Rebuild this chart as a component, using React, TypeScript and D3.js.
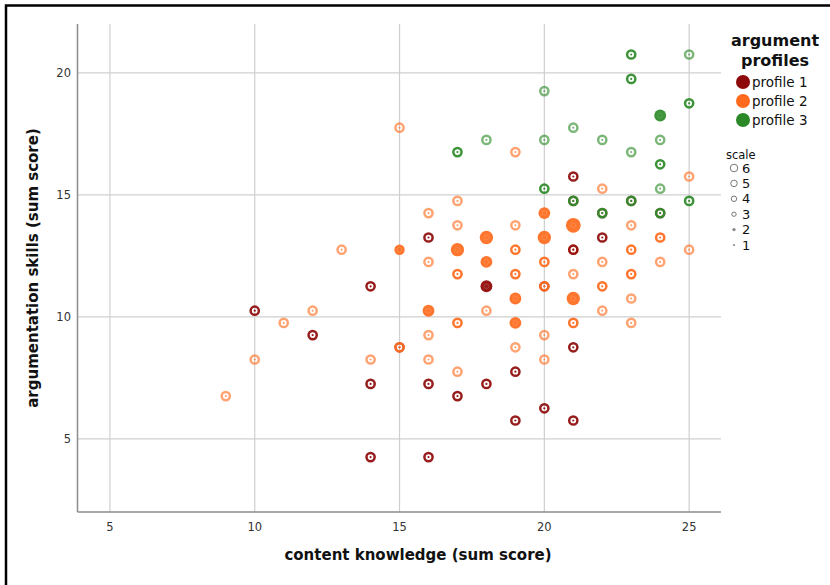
import React from "react";
import * as d3 from "d3";

// x = content knowledge, y = argumentation skills, n = scale (overlap count)
const profile1X = [10, 12, 14, 14, 14, 16, 16, 16, 17, 18, 18, 19, 19, 20, 20, 21, 21, 21, 21, 22, 15, 21, 22, 23, 24];
const profile1Y = [10.25, 9.25, 11.25, 7.25, 4.25, 13.25, 7.25, 4.25, 6.75, 11.25, 7.25, 7.75, 5.75, 11.25, 6.25, 15.75, 12.75, 8.75, 5.75, 13.25, 8.75, 14.75, 14.25, 14.75, 14.25];
const profile1N = [2, 2, 2, 2, 2, 2, 2, 2, 2, 4, 2, 2, 2, 1, 2, 2, 2, 2, 2, 2, 1, 1, 1, 1, 1];

const profile2X = [9, 10, 11, 12, 13, 14, 15, 15, 15, 16, 16, 16, 16, 16, 17, 17, 17, 17, 17, 17, 18, 18, 18, 18, 19, 19, 19, 19, 19, 19, 19, 20, 20, 20, 20, 20, 20, 21, 21, 21, 21, 21, 22, 22, 22, 22, 23, 23, 23, 23, 23, 24, 24, 25, 25];
const profile2Y = [6.75, 8.25, 9.75, 10.25, 12.75, 8.25, 17.75, 12.75, 8.75, 14.25, 12.25, 10.25, 9.25, 8.25, 14.75, 13.75, 12.75, 11.75, 9.75, 7.75, 13.25, 12.25, 11.25, 10.25, 16.75, 13.75, 12.75, 11.75, 10.75, 9.75, 8.75, 14.25, 13.25, 12.25, 11.25, 9.25, 8.25, 13.75, 12.75, 11.75, 10.75, 9.75, 15.25, 12.25, 11.25, 10.25, 13.75, 12.75, 11.75, 10.75, 9.75, 13.25, 12.25, 15.75, 12.75];
const profile2N = [1, 1, 1, 1, 1, 1, 1, 3, 2, 1, 1, 4, 1, 1, 1, 1, 5, 2, 2, 1, 5, 4, 1, 1, 1, 1, 2, 2, 4, 4, 1, 4, 5, 2, 2, 1, 1, 6, 1, 1, 5, 2, 1, 1, 2, 1, 1, 2, 2, 1, 1, 2, 1, 1, 1];

const profile3X = [17, 18, 20, 20, 20, 21, 21, 22, 22, 23, 23, 23, 23, 24, 24, 24, 24, 24, 25, 25, 25];
const profile3Y = [16.75, 17.25, 19.25, 17.25, 15.25, 17.75, 14.75, 17.25, 14.25, 20.75, 19.75, 16.75, 14.75, 18.25, 17.25, 16.25, 15.25, 14.25, 20.75, 18.75, 14.75];
const profile3N = [2, 1, 1, 1, 2, 1, 2, 1, 2, 2, 2, 1, 2, 4, 1, 2, 1, 2, 1, 2, 2];

const profileNames = ["profile 1", "profile 2", "profile 3"];
const profileColors = ["#8e0a0a", "#ff6a1c", "#2b8a27"];
const xTicks = [5, 10, 15, 20, 25];
const yTicks = [5, 10, 15, 20];
const scaleLevels = [6, 5, 4, 3, 2, 1];

const W = 830;
const H = 585;

type Pt = { x: number; y: number; n: number; p: number };

export default function App() {
  const x = d3.scaleLinear().domain([3.88, 26.1]).range([77.5, 721]);
  const y = d3.scaleLinear().domain([2, 22]).range([512, 24]);

  const pts: Pt[] = [];
  [
    [profile1X, profile1Y, profile1N],
    [profile2X, profile2Y, profile2N],
    [profile3X, profile3Y, profile3N],
  ].forEach(([xs, ys, ns], p) => {
    xs.forEach((v, i) => pts.push({ x: v, y: ys[i], n: ns[i], p }));
  });
  pts.sort((a, b) => a.n - b.n);

  const rFilled = d3.scaleLinear().domain([3, 6]).range([5.2, 7.4]);
  const legendR = d3.scaleLinear().domain([1, 6]).range([1.1, 3.8]);

  return (
    <svg width={W} height={H} style={{ position: "absolute", left: 0, top: 0, background: "#fff" }}
      fontFamily="'DejaVu Sans', sans-serif">
      <rect x={0} y={0} width={W} height={H} fill="#fff" />
      {/* frame */}
      <path d={`M6,${H + 2} V5.5 H${W + 2}`} fill="none" stroke="#000" strokeWidth={2.5} />

      {/* grid */}
      {xTicks.map((t) => (
        <line key={"gx" + t} x1={x(t)} x2={x(t)} y1={y(22)} y2={y(2)} stroke="#cfcfcf" strokeWidth={1.2} />
      ))}
      {yTicks.map((t) => (
        <line key={"gy" + t} x1={x(3.88)} x2={x(26.1)} y1={y(t)} y2={y(t)} stroke="#cfcfcf" strokeWidth={1.2} />
      ))}
      {/* axes */}
      <line x1={x(3.88)} x2={x(3.88)} y1={y(22)} y2={y(2)} stroke="#8c8c8c" strokeWidth={1.5} />
      <line x1={x(3.88)} x2={x(26.1)} y1={y(2)} y2={y(2)} stroke="#8c8c8c" strokeWidth={1.5} />

      {xTicks.map((t) => (
        <text key={"tx" + t} x={x(t)} y={531} textAnchor="middle" fontSize={11.5} fill="#333">{t}</text>
      ))}
      {yTicks.map((t) => (
        <text key={"ty" + t} x={71} y={y(t) + 4} textAnchor="end" fontSize={11.5} fill="#333">{t}</text>
      ))}

      <text x={418} y={560} textAnchor="middle" fontSize={15} fontWeight="bold" fill="#111">
        content knowledge (sum score)
      </text>
      <text transform={`translate(38,268) rotate(-90)`} textAnchor="middle" fontSize={15} fontWeight="bold" fill="#111">
        argumentation skills (sum score)
      </text>

      {/* points */}
      {pts.map((d, i) => {
        const c = profileColors[d.p];
        const cx = x(d.x);
        const cy = y(d.y);
        if (d.n >= 3) {
          return (
            <g key={i}>
              <circle cx={cx} cy={cy} r={rFilled(d.n)} fill={c} fillOpacity={0.92} />
              <circle cx={cx} cy={cy} r={2.4} fill="none" stroke="#fff" strokeOpacity={0.12} strokeWidth={1} />
            </g>
          );
        }
        const a = d.n === 1 ? 0.62 : 0.92;
        return (
          <g key={i}>
            <circle cx={cx} cy={cy} r={4.1} fill="none" stroke={c} strokeOpacity={a} strokeWidth={2.5} />
            <circle cx={cx} cy={cy} r={1.1} fill={c} fillOpacity={a} />
          </g>
        );
      })}

      {/* legend */}
      <text x={775} y={46} textAnchor="middle" fontSize={16} fontWeight="bold" fill="#111">argument</text>
      <text x={775} y={66} textAnchor="middle" fontSize={16} fontWeight="bold" fill="#111">profiles</text>
      {profileNames.map((n, i) => (
        <g key={n}>
          <circle cx={743} cy={82 + i * 19} r={7} fill={profileColors[i]} />
          <text x={752} y={87 + i * 19} fontSize={13.5} fill="#111">{n}</text>
        </g>
      ))}
      <text x={726} y={159} fontSize={11.5} fill="#111">scale</text>
      {scaleLevels.map((s, i) => (
        <g key={s}>
          {s >= 3 ? (
            <circle cx={734} cy={168 + i * 15.4} r={legendR(s)} fill="none" stroke="#777" strokeWidth={1} />
          ) : (
            <circle cx={734} cy={168 + i * 15.4} r={legendR(s)} fill="#888" />
          )}
          <text x={742} y={172.5 + i * 15.4} fontSize={13} fill="#111">{s}</text>
        </g>
      ))}
    </svg>
  );
}
